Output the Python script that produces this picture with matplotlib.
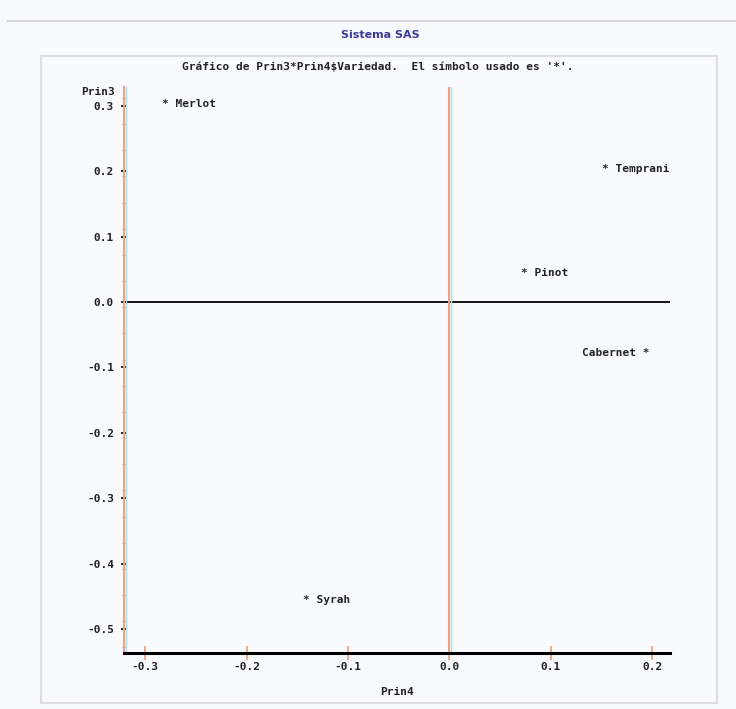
import numpy as np
import matplotlib.pyplot as plt
from matplotlib.transforms import offset_copy
from matplotlib.patches import Rectangle
from matplotlib.lines import Line2D

# Scores
variedad = ['Merlot', 'Temprani', 'Pinot', 'Cabernet', 'Syrah']
prin4 = [-0.280, 0.154, 0.074, 0.194, -0.141]
prin3 = [0.303, 0.203, 0.044, -0.078, -0.455]
x_ticks = [-0.3, -0.2, -0.1, 0.0, 0.1, 0.2]
y_ticks = [0.3, 0.2, 0.1, 0.0, -0.1, -0.2, -0.3, -0.4, -0.5]
left_labels = {'Cabernet'}

W, H = 736, 709
bg = '#f9fafe'
orange = '#eea283'
cyan = '#a6dcf6'
ink = '#222222'
mono = 'DejaVu Sans Mono'

plt.rcParams['axes.unicode_minus'] = False

fig = plt.figure(figsize=(W / 100, H / 100), dpi=100, facecolor=bg)

# page decorations
fig.add_artist(Line2D([8 / W, 1], [1 - 21 / H, 1 - 21 / H], color='#d6d6d6', lw=1.5))
fig.add_artist(Rectangle((41 / W, 1 - 703 / H), 676 / W, 647 / H, fill=False,
                         edgecolor='#dedede', lw=1.5))
fig.text(380 / W, 1 - 35 / H, 'Sistema SAS', ha='center', va='center',
         fontsize=8, fontweight='bold', color='#3a3a98', family='DejaVu Sans')
fig.text(378 / W, 1 - 67 / H,
         "Gráfico de Prin3*Prin4$Variedad.  El símbolo usado es '*'.",
         ha='center', va='center', fontsize=8, fontweight='bold', color=ink, family=mono)
fig.text(115 / W, 1 - 92 / H, 'Prin3', ha='right', va='center', fontsize=8,
         fontweight='bold', color=ink, family=mono)
fig.text(397 / W, 1 - 692 / H, 'Prin4', ha='center', va='center', fontsize=8,
         fontweight='bold', color=ink, family=mono)

ax = fig.add_axes([124 / W, 1 - 653 / H, 546 / W, 566 / H])
ax.set_facecolor(bg)
ax.patch.set_alpha(0)

for name, x, y in zip(variedad, prin4, prin3):
    if name in left_labels:
        ax.annotate(name + ' *', (x, y), xytext=(2.4, 0), textcoords='offset points',
                    ha='right', va='center', fontsize=8, fontweight='bold',
                    color=ink, family=mono)
    else:
        ax.annotate('* ' + name, (x, y), xytext=(-2.4, 0), textcoords='offset points',
                    ha='left', va='center', fontsize=8, fontweight='bold',
                    color=ink, family=mono)

ax.axhline(0, color='black', lw=1.3)
ax.axvline(0, color=orange, lw=1.5)
xlo = -0.321
shift = offset_copy(ax.get_xaxis_transform(), fig=fig, x=2, units='dots')
ax.plot([0, 0], [0, 1], color=cyan, lw=1, transform=shift)
ax.plot([xlo, xlo], [0, 1], color=cyan, lw=1, transform=shift, clip_on=False)

ax.set_xlim(xlo, 0.2175)
ax.set_ylim(-0.5367, 0.3287)

for s in ['top', 'right']:
    ax.spines[s].set_visible(False)
ax.spines['left'].set_color(orange)
ax.spines['left'].set_linewidth(1.5)
ax.spines['bottom'].set_color('black')
ax.spines['bottom'].set_linewidth(2.2)
ax.spines['bottom'].set_zorder(3)

ax.set_xticks(x_ticks)
ax.set_xticklabels(['%.1f' % v for v in x_ticks])
ax.set_yticks(y_ticks)
ax.set_yticklabels(['%.1f' % v for v in y_ticks])
ax.set_yticks(np.arange(0.312, -0.54, -0.04), minor=True)

ax.tick_params(axis='x', direction='inout', length=9.4, width=1.3, color=orange,
               pad=1.8, labelsize=8, labelcolor=ink)
ax.tick_params(axis='y', which='major', direction='inout', length=5, width=1.2,
               color='black', pad=4.7, labelsize=8, labelcolor=ink)
ax.tick_params(axis='y', which='minor', direction='inout', length=2.5, width=0.8,
               color=orange)
for lab in ax.get_xticklabels() + ax.get_yticklabels():
    lab.set_family(mono)
    lab.set_fontweight('bold')

fig.savefig('out.png', dpi=100, facecolor=bg)
